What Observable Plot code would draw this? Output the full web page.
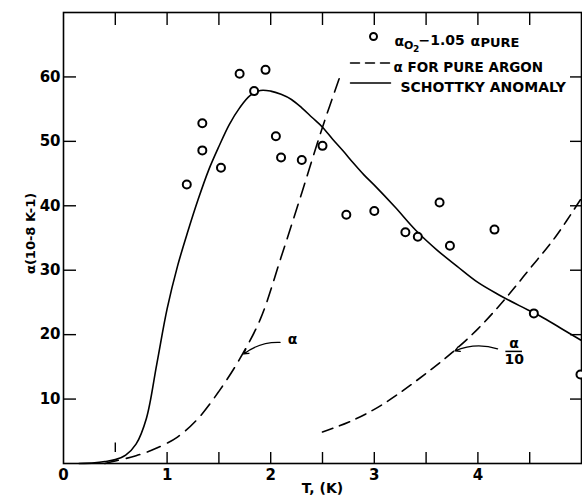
<!DOCTYPE html>
<html><head><meta charset="utf-8">
<script src="https://cdn.jsdelivr.net/npm/d3@7"></script>
<script src="https://cdn.jsdelivr.net/npm/@observablehq/plot@0.6"></script>
<style>body{margin:0;background:#fff}</style>
</head><body><div id="chart"></div>
<script>
// Observed points: alpha_O2 - 1.05 alpha_pure
const obsT = [1.19,1.34,1.34,1.52,1.70,1.95,1.84,2.05,2.10,2.30,2.50,2.73,3.00,3.30,3.42,3.63,3.73,4.16,4.54,4.99];
const obsA = [43.3,52.8,48.6,45.9,60.5,61.1,57.8,50.8,47.5,47.1,49.3,38.6,39.2,35.9,35.2,40.5,33.8,36.3,23.3,13.8];
// Schottky anomaly (solid)
const schT = [0.15,0.3,0.4,0.5,0.6,0.7,0.8,0.9,1.0,1.1,1.2,1.3,1.4,1.5,1.6,1.7,1.8,1.9,2.0,2.1,2.2,2.3,2.4,2.5,2.6,2.7,2.8,2.9,3.0,3.2,3.4,3.6,3.8,4.0,4.2,4.4,4.6,4.8,5.0];
const schA = [0,0.1,0.3,0.6,1.3,3.0,7.0,15.4,24.0,30.6,36.0,41.0,45.5,49.2,52.6,55.2,57.1,57.9,57.8,57.3,56.5,55.2,53.7,52.2,50.3,48.5,46.6,44.8,43.2,39.8,36.2,33.2,30.6,28.1,26.2,24.5,22.9,21.0,19.1];
// alpha for pure argon (dashed)
const arT = [0.4,0.5,0.7,0.9,1.1,1.3,1.5,1.7,1.9,2.1,2.3,2.5,2.68];
const arA = [0,0.4,1.2,2.4,4.1,7.0,11.2,16.2,22.4,32.0,42.0,52.2,60.6];
// alpha/10 (dashed)
const ar10T = [2.5,2.75,3.0,3.25,3.5,3.75,4.0,4.25,4.5,4.75,5.0];
const ar10A = [4.9,6.4,8.4,11.0,14.0,17.2,20.9,25.3,30.2,35.2,41.2];

const yTicks = [10,20,30,40,50,60];
const xTicksBottom = [1,1.5,2,2.5,3,3.5,4,4.5];
const xTicksTop = [0.5,1,1.5,2,2.5,3,3.5,4,4.5];
const xLabels = [0,1,2,3,4];
const raisedTickX = [0.5];
const raisedTickY = [1.7,3.2];

const obs = obsT.map((t,i)=>({t, a:obsA[i]}));
const sch = schT.map((t,i)=>({t, a:schA[i]}));
const ar = arT.map((t,i)=>({t, a:arA[i]}));
const ar10 = ar10T.map((t,i)=>({t, a:ar10A[i]}));

const arrows = [
  {x1:2.09, y1:18.8, x2:1.74, y2:17.0},
  {x1:4.19, y1:17.8, x2:3.78, y2:17.5}
];
const annot = [
  {x:2.21, y:19.2, s:"α"},
  {x:4.35, y:18.7, s:"α"},
  {x:4.35, y:16.2, s:"10"}
];
const fracBar = [{x1:4.27, x2:4.43, y:17.4}];

const F = "DejaVu Sans, Verdana, sans-serif";
const segShape = {draw(ctx, l){ ctx.moveTo(0,0); ctx.lineTo(0,-l); }};

const chart = Plot.plot({
  width: 582, height: 499,
  marginLeft: 63, marginRight: 1, marginTop: 12, marginBottom: 36,
  x: {domain: [0,5]},
  y: {domain: [0,70]},
  style: {fontFamily: F, background: "white", color: "black"},
  marks: [
    Plot.frame({stroke: "black", strokeWidth: 1.6}),
    Plot.axisY(yTicks, {anchor: "left", tickSize: -13, tickFormat: () => "", label: null, strokeWidth: 1.4}),
    Plot.axisY(yTicks, {anchor: "left", tickSize: 0, tickPadding: 3, fontSize: 15, fontWeight: "bold", label: null}),
    Plot.axisY(yTicks, {anchor: "right", tickSize: -12, tickFormat: () => "", label: null, strokeWidth: 1.4}),
    Plot.axisX(xTicksTop, {anchor: "top", tickSize: -12, tickFormat: () => "", label: null, strokeWidth: 1.4}),
    Plot.axisX(xTicksBottom, {anchor: "bottom", tickSize: -11, tickFormat: () => "", label: null, strokeWidth: 1.4}),
    Plot.axisX(xLabels, {anchor: "bottom", tickSize: 0, tickPadding: 6, fontSize: 15, fontWeight: "bold", label: null}),
    Plot.ruleX(raisedTickX, {y1: raisedTickY[0], y2: raisedTickY[1], stroke: "black", strokeWidth: 1.4}),
    Plot.line(sch, {x: "t", y: "a", curve: "catmull-rom", stroke: "black", strokeWidth: 1.6}),
    Plot.line(ar, {x: "t", y: "a", curve: "catmull-rom", stroke: "black", strokeWidth: 1.6, strokeDasharray: "14,8"}),
    Plot.line(ar10, {x: "t", y: "a", curve: "catmull-rom", stroke: "black", strokeWidth: 1.6, strokeDasharray: "11,7"}),
    Plot.dot(obs, {x: "t", y: "a", r: 4, stroke: "black", strokeWidth: 2, fill: "white"}),
    Plot.arrow(arrows, {x1: "x1", y1: "y1", x2: "x2", y2: "y2", stroke: "black", strokeWidth: 1.3, headLength: 6, bend: -20}),
    Plot.text(annot, {x: "x", y: "y", text: "s", fontSize: 14, fontWeight: "bold", textAnchor: "middle"}),
    Plot.ruleY(fracBar, {x1: "x1", x2: "x2", y: "y", stroke: "black", strokeWidth: 1.5}),
    // axis titles
    Plot.text(["α(10-8 K-1)"], {frameAnchor: "left", dx: -33, dy: 36, rotate: -90, fontSize: 13, fontWeight: "bold"}),
    Plot.text(["T, (K)"], {frameAnchor: "bottom", dy: 29, fontSize: 14, fontWeight: "bold"}),
    // legend
    Plot.dot([0], {frameAnchor: "top-left", dx: 310, dy: 24, r: 3.5, stroke: "black", strokeWidth: 2, fill: "white"}),
    Plot.text(["α"], {frameAnchor: "top-left", dx: 331, dy: 24, textAnchor: "start", fontSize: 14, fontWeight: "bold"}),
    Plot.text(["O"], {frameAnchor: "top-left", dx: 340.5, dy: 28.5, textAnchor: "start", fontSize: 11, fontWeight: "bold"}),
    Plot.text(["2"], {frameAnchor: "top-left", dx: 349.5, dy: 33.5, textAnchor: "start", fontSize: 9, fontWeight: "bold"}),
    Plot.text(["−1.05"], {frameAnchor: "top-left", dx: 355, dy: 23, textAnchor: "start", fontSize: 14, fontWeight: "bold"}),
    Plot.text(["α"], {frameAnchor: "top-left", dx: 407, dy: 24, textAnchor: "start", fontSize: 14, fontWeight: "bold"}),
    Plot.text(["PURE"], {frameAnchor: "top-left", dx: 417, dy: 25, textAnchor: "start", fontSize: 13, fontWeight: "bold"}),
    Plot.vector([0], {frameAnchor: "top-left", dx: 287, dy: 50.5, rotate: 90, length: 40, anchor: "start", shape: segShape, stroke: "black", strokeWidth: 1.5, strokeDasharray: "9,6"}),
    Plot.text(["α FOR PURE ARGON"], {frameAnchor: "top-left", dx: 330, dy: 50, textAnchor: "start", fontSize: 13.5, fontWeight: "bold"}),
    Plot.vector([0], {frameAnchor: "top-left", dx: 287, dy: 70.5, rotate: 90, length: 40, anchor: "start", shape: segShape, stroke: "black", strokeWidth: 1.5}),
    Plot.text(["SCHOTTKY ANOMALY"], {frameAnchor: "top-left", dx: 337, dy: 70, textAnchor: "start", fontSize: 14, fontWeight: "bold"})
  ]
});
document.getElementById("chart").appendChild(chart);
</script>
</body></html>
